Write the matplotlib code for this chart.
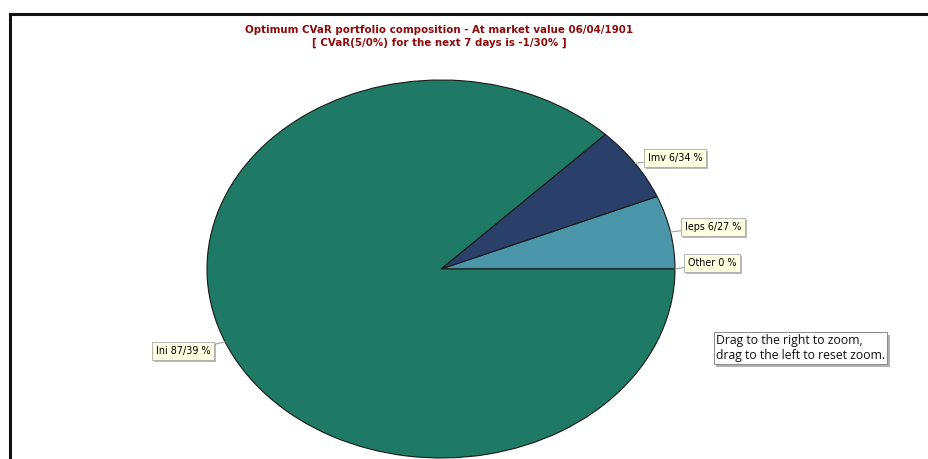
import matplotlib.pyplot as plt
import matplotlib.patheffects as pe
from matplotlib.lines import Line2D
import numpy as np

# data, counter-clockwise from 3 o'clock
names = ['Other', 'Ieps', 'Imv', 'Ini']
shares = [0.0, 6.27, 6.34, 87.39]
share_labels = ['Other 0 %', 'Ieps 6/27 %', 'Imv 6/34 %', 'Ini 87/39 %']
colors = ['#4a96a8', '#4a96a8', '#2b3f6b', '#1e7a64']

title1 = 'Optimum CVaR portfolio composition - At market value 06/04/1901'
title2 = '[ CVaR(5/0%) for the next 7 days is -1/30% ]'

W, H = 929, 459
fig = plt.figure(figsize=(W / 100, H / 100), dpi=100)
fig.patch.set_facecolor('white')

# outer frame (only top and left are visible)
fig.add_artist(Line2D([10 / W, 10 / W], [0, 1 - 14 / H], transform=fig.transFigure,
                      color='#111111', lw=2.2))
fig.add_artist(Line2D([10 / W, 1], [1 - 14 / H, 1 - 14 / H], transform=fig.transFigure,
                      color='#111111', lw=2.2))

# pie area: ellipse centre (441, 269), rx 234, ry 189 (pixels from top-left)
cx, cy, rx, ry = 441, 269, 234, 189
ax = fig.add_axes([(cx - rx) / W, 1 - (cy + ry) / H, 2 * rx / W, 2 * ry / H])
wedges, _ = ax.pie(shares, colors=colors, startangle=0, counterclock=True,
                   wedgeprops=dict(edgecolor='#1a1a1a', linewidth=0.8))
for w in wedges:
    w.set_clip_on(False)
ax.set_aspect('auto')
ax.set_xlim(-1, 1)
ax.set_ylim(-1, 1)
ax.axis('off')

# label boxes (centre in pixels from top-left)
box_pos = {'Other': (712, 263), 'Ieps': (713, 227), 'Imv': (675, 158), 'Ini': (183, 351)}
angle0 = 0.0
for name, val, lab in zip(names, shares, share_labels):
    mid = np.deg2rad(angle0 + val * 3.6 / 2)
    angle0 += val * 3.6
    px, py = box_pos[name]
    t = ax.annotate(lab, xy=(np.cos(mid), np.sin(mid)), xycoords='data',
                    xytext=(px, H - py), textcoords='figure pixels',
                    ha='center', va='center', fontsize=6.9,
                    family='DejaVu Sans', color='black',
                    bbox=dict(boxstyle='square,pad=0.4', fc='#ffffe1', ec='#a8a8a8', lw=0.6),
                    arrowprops=dict(arrowstyle='-', color='#a0a0a0', lw=0.8,
                                    shrinkA=0, shrinkB=0),
                    annotation_clip=False)
    t.get_bbox_patch().set_path_effects([pe.SimplePatchShadow(offset=(1.5, -1.5),
                                                              shadow_rgbFace='#909090',
                                                              alpha=0.6), pe.Normal()])

# title
fig.text(439 / W, 1 - 30 / H, title1, ha='center', va='center', fontsize=7.4,
         fontweight='bold', color='#8b0a0a', family='DejaVu Sans')
fig.text(439 / W, 1 - 43 / H, title2, ha='center', va='center', fontsize=7.4,
         fontweight='bold', color='#8b0a0a', family='DejaVu Sans')

# zoom hint box
hint = fig.text(716 / W, 1 - 348 / H, 'Drag to the right to zoom,\ndrag to the left to reset zoom.',
                ha='left', va='center', fontsize=8.8, family='Open Sans', color='#111111',
                linespacing=1.15,
                bbox=dict(boxstyle='square,pad=0.2', fc='white', ec='#8a8a8a', lw=0.7))
hint.get_bbox_patch().set_path_effects([pe.SimplePatchShadow(offset=(2, -2),
                                                             shadow_rgbFace='#808080',
                                                             alpha=0.6), pe.Normal()])

fig.savefig('out.png', dpi=100)
